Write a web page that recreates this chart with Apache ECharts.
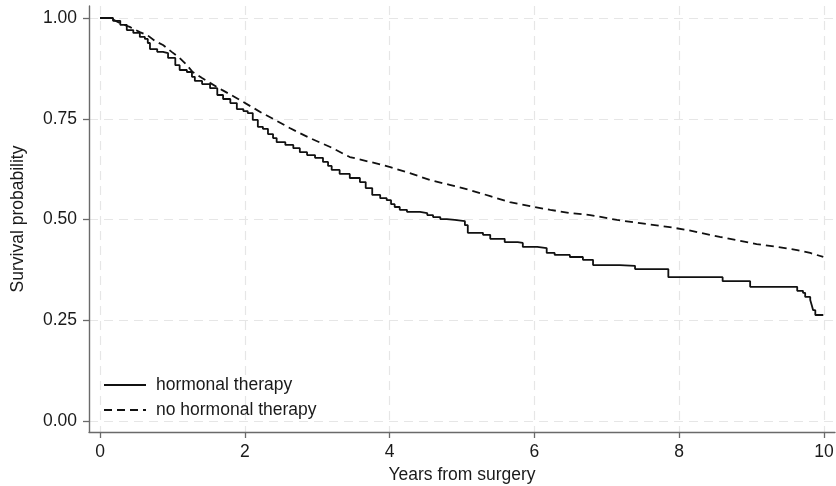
<!DOCTYPE html>
<html>
<head>
<meta charset="utf-8">
<script src="https://cdn.jsdelivr.net/npm/echarts@6/dist/echarts.min.js"></script>
<style>
  html, body { margin: 0; padding: 0; background: #fff; }
  #chart { width: 836px; height: 486px; }
</style>
</head>
<body>
<div id="chart"></div>
<script>
// Kaplan-Meier estimates
const hormTime = [0.00, 0.11, 0.18, 0.28, 0.37, 0.46, 0.55, 0.62, 0.66, 0.69, 0.79, 0.87, 0.94, 1.04, 1.10, 1.20, 1.27, 1.31, 1.41, 1.52,
  1.62, 1.70, 1.80, 1.89, 1.98, 2.04, 2.11, 2.18, 2.25, 2.32, 2.39, 2.44, 2.56, 2.67, 2.76, 2.86, 2.97, 3.08, 3.15, 3.20,
  3.31, 3.45, 3.59, 3.67, 3.76, 3.87, 3.96, 4.02, 4.07, 4.14, 4.24, 4.42, 4.52, 4.60, 4.70, 4.79, 4.90, 5.04, 5.08, 5.29,
  5.39, 5.59, 5.77, 5.84, 6.04, 6.17, 6.28, 6.49, 6.67, 6.81, 7.18, 7.39, 7.85, 8.60, 8.98, 9.63, 9.71, 9.74, 9.81, 9.83,
  9.85, 9.88, 9.99]
const hormSurv = [1.000, 1.000, 0.993, 0.983, 0.970, 0.963, 0.953, 0.948, 0.938, 0.923, 0.916, 0.913, 0.901, 0.883, 0.871, 0.866, 0.854, 0.844, 0.836, 0.826,
  0.809, 0.799, 0.789, 0.774, 0.769, 0.764, 0.747, 0.730, 0.725, 0.712, 0.702, 0.692, 0.685, 0.677, 0.667, 0.660, 0.653, 0.643, 0.633, 0.623,
  0.613, 0.603, 0.593, 0.578, 0.561, 0.553, 0.548, 0.538, 0.531, 0.524, 0.519, 0.516, 0.511, 0.506, 0.501, 0.499, 0.496, 0.486, 0.467, 0.462,
  0.452, 0.444, 0.442, 0.432, 0.429, 0.417, 0.412, 0.407, 0.400, 0.387, 0.385, 0.377, 0.357, 0.347, 0.333, 0.323, 0.318, 0.308, 0.300, 0.288,
  0.275, 0.263, 0.263]

const noHormTime = [0.00, 0.14, 0.30, 0.41, 0.55, 0.65, 0.76, 0.87, 0.99, 1.10, 1.20, 1.28, 1.41, 1.52, 1.69, 1.86, 2.07, 2.24, 2.42, 2.62,
  2.90, 3.18, 3.45, 3.73, 4.01, 4.28, 4.56, 4.83, 5.11, 5.39, 5.66, 5.94, 6.22, 6.49, 6.77, 7.14, 7.46, 7.87, 8.11, 8.29,
  8.56, 8.84, 9.07, 9.35, 9.63, 9.81, 9.99]
const noHormSurv = [1.000, 1.000, 0.985, 0.978, 0.965, 0.958, 0.943, 0.933, 0.916, 0.901, 0.883, 0.866, 0.851, 0.839, 0.821, 0.804, 0.782, 0.764, 0.747, 0.727,
  0.702, 0.680, 0.655, 0.643, 0.630, 0.615, 0.598, 0.586, 0.573, 0.558, 0.543, 0.533, 0.524, 0.516, 0.511, 0.499, 0.491, 0.481, 0.474, 0.467,
  0.457, 0.447, 0.439, 0.432, 0.424, 0.417, 0.407]

const xTicks = [0, 2, 4, 6, 8, 10]
const yTicks = [0, 0.25, 0.5, 0.75, 1]
const seriesNames = ['hormonal therapy', 'no hormonal therapy']

const FONT = '"Liberation Sans", Arial, sans-serif'
const axisColor = '#6a6a6a'
const gridColor = '#e6e6e6'

const chart = echarts.init(document.getElementById('chart'), null, { renderer: 'canvas' })

const option = {
  animation: false,
  backgroundColor: '#fff',
  textStyle: { fontFamily: FONT },
  grid: { left: 89, right: 1, top: 6, bottom: 54, containLabel: false, outerBoundsMode: 'none' },
  legend: {
    left: 103,
    top: 376,
    orient: 'vertical',
    padding: 0,
    itemWidth: 42,
    itemHeight: 14,
    itemGap: 7,
    data: seriesNames,
    // hide the circle that line series put in the legend icon
    itemStyle: { opacity: 0 },
    textStyle: { fontSize: 17.5, color: '#1a1a1a', fontFamily: FONT, padding: [0, 0, 0, 5] }
  },
  xAxis: {
    type: 'value',
    min: -0.152,
    max: 10.152,
    name: 'Years from surgery',
    nameLocation: 'middle',
    nameGap: 33,
    nameTextStyle: { fontSize: 17.5, color: '#1a1a1a', fontFamily: FONT },
    axisLine: { onZero: false, lineStyle: { color: axisColor, width: 1.4 } },
    axisTick: { customValues: xTicks, length: 6, lineStyle: { color: axisColor, width: 1.3 } },
    axisLabel: { customValues: xTicks, margin: 11, fontSize: 17.5, color: '#1a1a1a', fontFamily: FONT },
    splitLine: { show: true, lineStyle: { color: gridColor, type: [9, 6], width: 1.2 } }
  },
  yAxis: {
    type: 'value',
    min: -0.0273,
    max: 1.0298,
    name: 'Survival probability',
    nameLocation: 'middle',
    nameGap: 62,
    nameTextStyle: { fontSize: 17.5, color: '#1a1a1a', fontFamily: FONT },
    axisLine: { show: true, onZero: false, lineStyle: { color: axisColor, width: 1.4 } },
    axisTick: { show: true, customValues: yTicks, length: 6, lineStyle: { color: axisColor, width: 1.3 } },
    axisLabel: {
      customValues: yTicks,
      margin: 12,
      fontSize: 17.5,
      color: '#1a1a1a',
      fontFamily: FONT,
      formatter: v => v.toFixed(2)
    },
    splitLine: { show: true, lineStyle: { color: gridColor, type: [9, 6], width: 1.2 } }
  },
  series: [
    {
      name: seriesNames[0],
      type: 'line',
      step: 'end',
      symbol: 'none',
      data: hormTime.map((t, i) => [t, hormSurv[i]]),
      lineStyle: { color: '#111', width: 1.8 },
      itemStyle: { color: '#111' }
    },
    {
      name: seriesNames[1],
      type: 'line',
      symbol: 'none',
      data: noHormTime.map((t, i) => [t, noHormSurv[i]]),
      lineStyle: { color: '#111', width: 1.8, type: [8, 5] },
      itemStyle: { color: '#111' }
    }
  ]
}

chart.setOption(option)
</script>
</body>
</html>
